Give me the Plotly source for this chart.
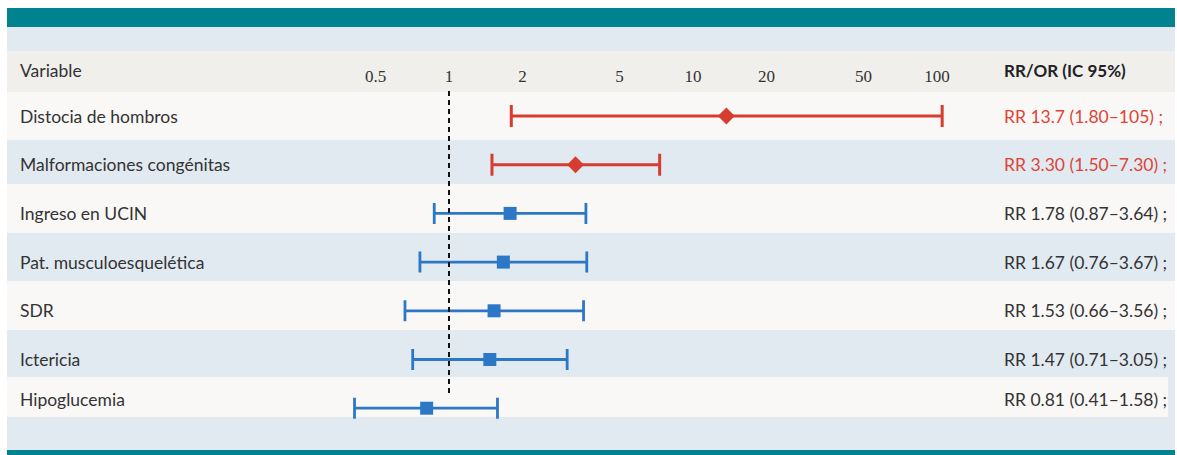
import plotly.graph_objects as go

# ---- data ----
variables = ["Distocia de hombros", "Malformaciones congénitas", "Ingreso en UCIN",
             "Pat. musculoesquelética", "SDR", "Ictericia", "Hipoglucemia"]
rr = [13.7, 3.30, 1.78, 1.67, 1.53, 1.47, 0.81]
ci_low = [1.80, 1.50, 0.87, 0.76, 0.66, 0.71, 0.41]
ci_high = [105, 7.30, 3.64, 3.67, 3.56, 3.05, 1.58]
measure = ["RR"] * 7
tick_vals = [0.5, 1, 2, 5, 10, 20, 50, 100]
tick_text = ["0.5", "1", "2", "5", "10", "20", "50", "100"]
ref_value = 1

W, H = 1177, 455
FONT = "Lato"
TICKFONT = "Liberation Serif"
RED = "#D63C2F"
RED_TXT = "#DE4437"
BLUE = "#2C77C6"
TEAL = "#00838F"
LBLUE = "#E1EAF0"
OFFW = "#F9F8F6"
HEAD = "#F0EFEC"
TXT = "#333333"

# pixel geometry -> axis ranges
px_per_dec = 244.0
x_ref_px = 449.0
row0_px = 116.0
row_step = 48.7
x_range = [(0 - x_ref_px) / px_per_dec, (W - x_ref_px) / px_per_dec]
y_range = [(H - row0_px) / row_step, (0 - row0_px) / row_step]

def py(p):
    return 1 - p / H

def px(p):
    return p / W

fig = go.Figure()

sig = [lo > ref_value for lo in ci_low]
groups = [
    (True, RED, "diamond", 13, 3, 11),
    (False, BLUE, "square", 13, 2.8, 10.5),
]
for flag, col, sym, size, thick, capw in groups:
    idx = [i for i in range(len(variables)) if sig[i] == flag]
    fig.add_trace(go.Scatter(
        x=[rr[i] for i in idx],
        y=[i for i in idx],
        mode="markers",
        marker=dict(symbol=sym, size=size, color=col, line=dict(width=0)),
        error_x=dict(type="data", symmetric=False,
                     array=[ci_high[i] - rr[i] for i in idx],
                     arrayminus=[rr[i] - ci_low[i] for i in idx],
                     color=col, thickness=thick, width=capw),
        showlegend=False, hoverinfo="skip",
    ))

# reference dashed line
fig.add_trace(go.Scatter(
    x=[ref_value, ref_value], y=[(91 - row0_px) / row_step, (394 - row0_px) / row_step],
    mode="lines", line=dict(color="#111111", width=2, dash="5px,4px"),
    showlegend=False, hoverinfo="skip"))

# tick labels in header row
fig.add_trace(go.Scatter(
    x=tick_vals, y=[(78 - row0_px) / row_step] * len(tick_vals),
    mode="text", text=tick_text,
    textfont=dict(family=TICKFONT, size=17, color=TXT),
    showlegend=False, hoverinfo="skip"))

shapes = []
def rect(x0, x1, y0, y1, col):
    shapes.append(dict(type="rect", xref="paper", yref="paper",
                       x0=px(x0), x1=px(x1), y0=py(y1), y1=py(y0),
                       fillcolor=col, line=dict(width=0), layer="below"))

rect(7, 1175, 8, 27, TEAL)
rect(7, 1175, 27, 51, LBLUE)
rect(7, 1175, 51, 92, HEAD)
row_bounds = [92, 140, 184, 233, 281, 330, 377, 417]
for i in range(len(variables)):
    col = OFFW if i % 2 == 0 else LBLUE
    right = 1175
    if i == len(variables) - 1:
        rect(7, 1175, row_bounds[i], row_bounds[i + 1], LBLUE)
        right = 1168
    rect(7, right, row_bounds[i], row_bounds[i + 1], col)
rect(7, 1175, 417, 450, LBLUE)
rect(7, 1175, 450, 455, TEAL)

annotations = []
annotations.append(dict(xref="paper", yref="paper", x=px(18), y=py(70),
                        text="Variable", showarrow=False, xanchor="left", yanchor="middle",
                        font=dict(family=FONT, size=17.5, color=TXT)))
annotations.append(dict(xref="paper", yref="paper", x=px(1002), y=py(70),
                        text="<b>RR/OR (IC 95%)</b>", showarrow=False, xanchor="left", yanchor="middle",
                        font=dict(family=FONT, size=17, color="#222222")))
for i, v in enumerate(variables):
    shift = 9 if i == len(variables) - 1 else 0
    annotations.append(dict(xref="paper", yref="y", x=px(18), y=i, yshift=shift,
                            text=v, showarrow=False, xanchor="left", yanchor="middle",
                            font=dict(family=FONT, size=17.5, color=TXT)))
    if rr[i] < 10:
        label = f"{measure[i]} {rr[i]:.2f} ({ci_low[i]:.2f}–{ci_high[i]:.2f}) ;"
    else:
        label = f"{measure[i]} {rr[i]:.1f} ({ci_low[i]:.2f}–{ci_high[i]:g}) ;"
    annotations.append(dict(xref="paper", yref="y", x=px(1002), y=i, yshift=shift,
                            text=label, showarrow=False, xanchor="left", yanchor="middle",
                            font=dict(family=FONT, size=17.5, color=RED_TXT if sig[i] else TXT)))

fig.update_layout(
    width=W, height=H,
    margin=dict(l=0, r=0, t=0, b=0),
    paper_bgcolor="white", plot_bgcolor="rgba(0,0,0,0)",
    xaxis=dict(type="log", range=x_range, visible=False, fixedrange=True),
    yaxis=dict(range=y_range, visible=False, fixedrange=True),
    shapes=shapes, annotations=annotations,
)

fig.write_html("out.html")
